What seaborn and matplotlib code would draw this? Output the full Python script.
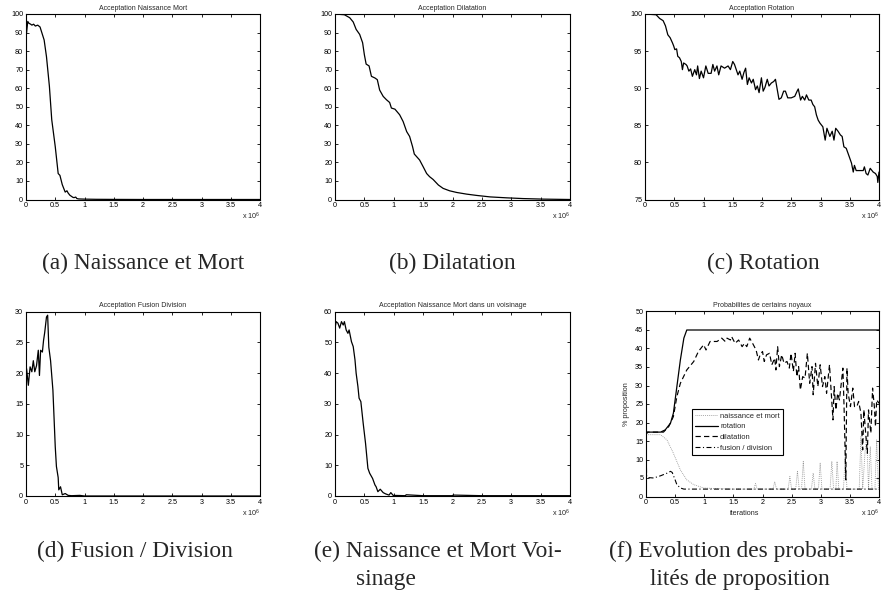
import numpy as np
import pandas as pd
import matplotlib
matplotlib.use("Agg")
import matplotlib.pyplot as plt
import seaborn as sns

# ---------------------------------------------------------------- data
# iterations are in units of 10^6
a_x = [0, 0.01, 0.03, 0.05, 0.08, 0.1, 0.13, 0.16, 0.2, 0.24,
       0.27, 0.31, 0.35, 0.4, 0.44, 0.5, 0.55, 0.58, 0.62, 0.67,
       0.7, 0.72, 0.75, 0.8, 0.82, 0.85, 0.87, 0.9, 1.0, 1.2,
       1.5, 2.0, 2.5, 3.0, 3.5, 4.0]
a_y = [87, 90, 96, 95, 94.5, 94, 94.5, 93.5, 94, 93,
       90, 86, 77, 61, 43, 28.5, 14, 13, 8, 4,
       4.7, 3.5, 2.3, 1.2, 1, 1.3, 0.5, 0.3, 0.2, 0.1,
       0.05, 0, 0, 0, 0, 0]

b_x = [0, 0.16, 0.25, 0.31, 0.36, 0.42, 0.47, 0.5, 0.53, 0.58,
       0.62, 0.68, 0.72, 0.76, 0.82, 0.875, 0.93, 0.96, 1.02, 1.1,
       1.16, 1.22, 1.27, 1.32, 1.35, 1.44, 1.5, 1.56, 1.61, 1.67,
       1.76, 1.84, 1.95, 2.07, 2.24, 2.41, 2.64, 2.92, 3.2, 3.55,
       4.0]
b_y = [100, 99.6, 98, 95.7, 91.7, 89, 84.5, 78, 73, 72,
       66.4, 65.5, 64.6, 59, 55.6, 53.8, 52.3, 49.3, 48.7, 45.7,
       42, 36.6, 34, 28.5, 24.5, 21.3, 17.7, 14, 12.3, 10.8,
       7.8, 6, 4.7, 3.8, 2.9, 2.2, 1.4, 0.9, 0.5, 0.2,
       0]

c_x = [0, 0.19, 0.25, 0.31, 0.35, 0.39, 0.43, 0.47, 0.49, 0.51,
       0.54, 0.56, 0.59, 0.62, 0.64, 0.66, 0.7, 0.72, 0.75, 0.78,
       0.81, 0.85, 0.88, 0.9, 0.93, 0.96, 1.0, 1.04, 1.08, 1.13,
       1.16, 1.19, 1.23, 1.26, 1.3, 1.36, 1.42, 1.46, 1.5, 1.53,
       1.56, 1.59, 1.62, 1.66, 1.69, 1.72, 1.75, 1.78, 1.82, 1.85,
       1.89, 1.92, 1.95, 1.99, 2.02, 2.05, 2.09, 2.12, 2.16, 2.2,
       2.23, 2.29, 2.33, 2.37, 2.4, 2.44, 2.5, 2.56, 2.6, 2.62,
       2.66, 2.69, 2.73, 2.76, 2.8, 2.84, 2.87, 2.9, 2.93, 2.96,
       2.99, 3.04, 3.08, 3.11, 3.16, 3.2, 3.23, 3.26, 3.3, 3.34,
       3.37, 3.4, 3.44, 3.49, 3.53, 3.56, 3.58, 3.61, 3.67, 3.73,
       3.75, 3.78, 3.81, 3.85, 3.9, 3.94, 3.97, 3.98, 4.0]
c_y = [100, 99.9, 99.4, 99.1, 98.4, 97.2, 96.8, 96.1, 95.7, 95.2,
       95.3, 94.3, 94.1, 93.6, 92.5, 93.4, 93.2, 93, 92.3, 92.6,
       91.6, 92.5, 91.8, 93, 91.3, 92.3, 91.4, 93, 92, 92,
       93.2, 92.3, 93, 91.8, 93, 92.7, 93, 92.5, 93.6, 93.2,
       92.5, 91.8, 92.3, 91.2, 92.1, 92.7, 90.5, 91.4, 90.7, 91.2,
       89.8, 90.3, 89.4, 91.4, 89.6, 90.1, 91.2, 90.3, 90.7, 90.9,
       91.2, 88.5, 88.7, 89.6, 89.6, 88.7, 88.7, 88.9, 89.6, 89.9,
       88.4, 88.9, 88.4, 89.1, 88.4, 88.4, 87.8, 87.5, 86.4, 85.7,
       85.3, 84.8, 83.0, 84.6, 83.5, 84.2, 83.0, 84.6, 84.2, 83.7,
       83.5, 82.1, 81.9, 80.8, 79.9, 78.7, 79.6, 78.9, 78.9, 78.9,
       79.4, 78.5, 78.3, 79.2, 78.7, 78.5, 78.1, 77.3, 78.7]

d_x = [0, 0.01, 0.04, 0.07, 0.1, 0.125, 0.15, 0.18, 0.21, 0.23,
       0.25, 0.28, 0.3, 0.32, 0.35, 0.37, 0.39, 0.42, 0.46, 0.5,
       0.52, 0.55, 0.56, 0.59, 0.62, 0.67, 0.72, 0.78, 0.92, 1.0,
       4.0]
d_y = [19.4, 20.7, 18, 21, 20.2, 22, 20.2, 21.2, 23.7, 19.6,
       23.7, 23.4, 25.3, 26.6, 29.1, 29.4, 24.2, 22, 17.2, 8,
       4.8, 3, 1, 1.5, 0.2, 0.4, 0.1, 0.05, 0.1, 0,
       0]

e_x = [0, 0.02, 0.05, 0.08, 0.11, 0.14, 0.16, 0.19, 0.22, 0.24,
       0.28, 0.31, 0.34, 0.36, 0.39, 0.41, 0.44, 0.48, 0.52, 0.56,
       0.59, 0.64, 0.68, 0.7, 0.73, 0.77, 0.82, 0.86, 0.92, 0.95,
       0.99, 1.2, 1.21, 1.5, 2.0, 2.01, 2.5, 3.0, 3.5, 4.0]
e_y = [54.6, 56.7, 56.2, 54.6, 56.7, 55.6, 56.7, 54, 52.9, 54,
       50.2, 48.6, 44.3, 39.9, 35.6, 31.8, 30.7, 23.6, 17.1, 9,
       7.4, 5.7, 3.6, 3, 1.4, 2.2, 1.1, 0.7, 0.3, 1.1,
       0.2, 0.1, 0.4, 0.1, 0.1, 0.3, 0.1, 0.1, 0.1, 0.1]

# kernel proposal probabilities (%)
f_nm_x = [0, 0.02, 0.25, 0.36, 0.47, 0.59, 0.7, 0.82, 0.99, 1.27,
          1.5, 1.85, 1.88, 1.91, 2.18, 2.21, 2.24, 2.44, 2.47, 2.5,
          2.57, 2.6, 2.63, 2.67, 2.7, 2.73, 2.84, 2.87, 2.9, 2.96,
          2.99, 3.02, 3.16, 3.19, 3.22, 3.26, 3.28, 3.31, 3.39, 3.42,
          3.45, 3.66, 3.69, 3.72, 3.76, 3.79, 3.82, 3.85, 3.88, 3.93,
          3.96, 3.99, 4.0]
f_nm_y = [16.7, 16.7, 16.7, 15.3, 11.7, 7.2, 4.5, 3.2, 2.3, 2.1,
          2, 2, 3.5, 2, 2, 4, 2, 2, 5.4, 2,
          2, 6.8, 2, 2, 9.5, 2, 2, 6.3, 2, 2,
          9, 2, 2, 9.5, 2, 2, 9.5, 2, 2, 11.3,
          2, 2, 16.2, 2, 12, 16.2, 2, 13.5, 2, 2,
          15.3, 2, 2]

f_rot_x = [0, 0.02, 0.03, 0.25, 0.33, 0.42, 0.47, 0.53, 0.59, 0.65, 0.7, 4.0]
f_rot_y = [16.7, 17.3, 17.4, 17.4, 18, 19.8, 22.5, 29.7, 36.9, 42.8, 45, 45]

f_dil_x = [0, 0.02, 0.3, 0.39, 0.47, 0.53, 0.59, 0.7, 0.82, 0.9,
           0.99, 1.03, 1.1, 1.22, 1.3, 1.36, 1.39, 1.45, 1.47, 1.53,
           1.59, 1.65, 1.69, 1.73, 1.78, 1.83, 1.89, 1.93, 1.96, 2.0,
           2.03, 2.07, 2.12, 2.16, 2.21, 2.23, 2.26, 2.29, 2.33, 2.37,
           2.42, 2.46, 2.49, 2.53, 2.56, 2.59, 2.62, 2.65, 2.69, 2.73,
           2.77, 2.81, 2.85, 2.87, 2.91, 2.95, 2.99, 3.03, 3.07, 3.1,
           3.15, 3.17, 3.21, 3.23, 3.26, 3.29, 3.32, 3.34, 3.38, 3.4,
           3.43, 3.45, 3.47, 3.51, 3.55, 3.58, 3.62, 3.65, 3.69, 3.72,
           3.74, 3.78, 3.8, 3.82, 3.86, 3.89, 3.92, 3.94, 3.96, 4.0]
f_dil_y = [16.7, 17.4, 17.4, 18.9, 21.6, 27, 30.6, 34.2, 36.5, 39.2,
           41, 39.6, 41.9, 41.9, 42.8, 41.9, 42.8, 42.3, 43.2, 41.4,
           42.3, 40.5, 41.4, 40.5, 42.8, 41.4, 39.6, 36.9, 38.3, 39.2,
           36.5, 38.3, 38.7, 35.6, 37.4, 34.2, 40.5, 35.1, 38.3, 36,
           36.5, 34.7, 38.7, 33.8, 38.7, 32.4, 35.1, 28.8, 32.4, 32,
           38.7, 30.6, 35.1, 27.5, 36, 29.7, 35.6, 29.7, 32.4, 27.9,
           35.6, 30.6, 20.7, 29.7, 23.4, 27.9, 26.1, 28.8, 34.7, 24.3,
           4.5, 34.7, 27.9, 24.3, 29.3, 24.3, 24.3, 25.7, 22.5, 12.6,
           23.4, 15.3, 11.7, 23.4, 17.1, 29.3, 24.3, 18.9, 26.1, 25.2]

f_fd_x = [0, 0.01, 0.05, 0.13, 0.25, 0.36, 0.42, 0.45, 0.5, 0.53, 0.59, 0.65, 4.0]
f_fd_y = [16.7, 5.4, 5.1, 5.0, 5.6, 6.3, 6.8, 6.5, 4.5, 3.2, 2.3, 2, 2]

x_ticks = [0, 0.5, 1, 1.5, 2, 2.5, 3, 3.5, 4]
x_tick_labels = ["0", "0.5", "1", "1.5", "2", "2.5", "3", "3.5", "4"]

legend_labels = ["naissance et mort", "rotation", "dilatation", "fusion / division"]

# ---------------------------------------------------------------- style
sns.set_style("ticks")
plt.rcParams["font.family"] = ["Liberation Sans", "DejaVu Sans"]
plt.rcParams["mathtext.default"] = "regular"

W, H = 882, 593
fig = plt.figure(figsize=(W / 100, H / 100), dpi=100)
fig.patch.set_facecolor("white")


def axes_px(left, top, right, bottom):
    return fig.add_axes([left / W, 1 - bottom / H, (right - left) / W, (bottom - top) / H])


def dress(ax, ylim, ystep, title):
    ax.set_xlim(0, 4)
    ax.set_ylim(*ylim)
    ax.set_xticks(x_ticks)
    ax.set_xticklabels(x_tick_labels)
    ax.set_yticks(np.arange(ylim[0], ylim[1] + 0.001, ystep))
    ax.tick_params(direction="in", length=2.2, width=0.6, top=True, right=True,
                   labelsize=5.2, pad=2, colors="black")
    for s in ax.spines.values():
        s.set_visible(True)
        s.set_linewidth(0.8)
        s.set_color("black")
    ax.set_title(title, fontsize=5, pad=3)
    ax.set_xlabel("")
    ax.set_ylabel("")
    ax.text(1.0, -0.092, r"x 10$^{6}$", transform=ax.transAxes, ha="right",
            va="center", fontsize=5.2)


def trace(ax, xs, ys, **kw):
    df = pd.DataFrame({"x": xs, "y": ys})
    sns.lineplot(data=df, x="x", y="y", ax=ax, estimator=None, sort=False, **kw)


ax_a = axes_px(26, 14, 260, 199.5)
trace(ax_a, a_x, a_y, color="black", linewidth=0.9)
dress(ax_a, (0, 100), 10, "Acceptation Naissance Mort")

ax_b = axes_px(335, 14, 570, 199.5)
trace(ax_b, b_x, b_y, color="black", linewidth=0.9)
dress(ax_b, (0, 100), 10, "Acceptation Dilatation")

ax_c = axes_px(645, 14, 879, 199.5)
trace(ax_c, c_x, c_y, color="black", linewidth=0.9)
dress(ax_c, (75, 100), 5, "Acceptation Rotation")

ax_d = axes_px(26, 311.5, 260, 496)
trace(ax_d, d_x, d_y, color="black", linewidth=0.9)
dress(ax_d, (0, 30), 5, "Acceptation Fusion Division")

ax_e = axes_px(335, 311.5, 570, 496)
trace(ax_e, e_x, e_y, color="black", linewidth=0.9)
dress(ax_e, (0, 60), 10, "Acceptation Naissance Mort dans un voisinage")

ax_f = axes_px(646, 311.5, 879, 496.5)
trace(ax_f, f_nm_x, f_nm_y, color="#8f8f8f", linewidth=0.6,
      linestyle=(0, (1, 1.3)), label=legend_labels[0])
trace(ax_f, f_rot_x, f_rot_y, color="black", linewidth=0.9,
      label=legend_labels[1])
trace(ax_f, f_dil_x, f_dil_y, color="black", linewidth=0.85,
      linestyle=(0, (4.5, 2.7)), label=legend_labels[2])
trace(ax_f, f_fd_x, f_fd_y, color="black", linewidth=0.8,
      linestyle=(0, (4.5, 2.2, 1, 2.2)), label=legend_labels[3])
dress(ax_f, (0, 50), 5, "Probabilites de certains noyaux")
ax_f.set_xlabel("iterations", fontsize=5.2)
ax_f.xaxis.set_label_coords(0.42, -0.075)
ax_f.set_ylabel("% proposition", fontsize=5.2)
ax_f.yaxis.set_label_coords(-0.07, 0.5)
leg = ax_f.legend(loc="lower left", bbox_to_anchor=(0.197, 0.225), fontsize=5.4,
                  frameon=True, fancybox=False, handlelength=3.0, handletextpad=0.3,
                  labelspacing=0.45, borderpad=0.45, borderaxespad=0)
leg.get_frame().set_edgecolor("black")
leg.get_frame().set_linewidth(0.8)
leg.get_frame().set_alpha(1)

# ---------------------------------------------------------------- sub-captions
cap = dict(family=["Liberation Serif", "DejaVu Serif"], fontsize=16.8, va="center")
fig.text(143 / W, 1 - 263 / H, "(a) Naissance et Mort", ha="center", **cap)
fig.text(452 / W, 1 - 263 / H, "(b) Dilatation", ha="center", **cap)
fig.text(763 / W, 1 - 263 / H, "(c) Rotation", ha="center", **cap)
fig.text(37 / W, 1 - 551 / H, "(d) Fusion / Division", ha="left", **cap)
fig.text(314 / W, 1 - 551 / H, "(e) Naissance et Mort Voi-", ha="left", **cap)
fig.text(356 / W, 1 - 579 / H, "sinage", ha="left", **cap)
fig.text(609 / W, 1 - 551 / H, "(f) Evolution des probabi-", ha="left", **cap)
fig.text(650 / W, 1 - 579 / H, "lités de proposition", ha="left", **cap)

fig.savefig("out.png", dpi=100, facecolor="white")
